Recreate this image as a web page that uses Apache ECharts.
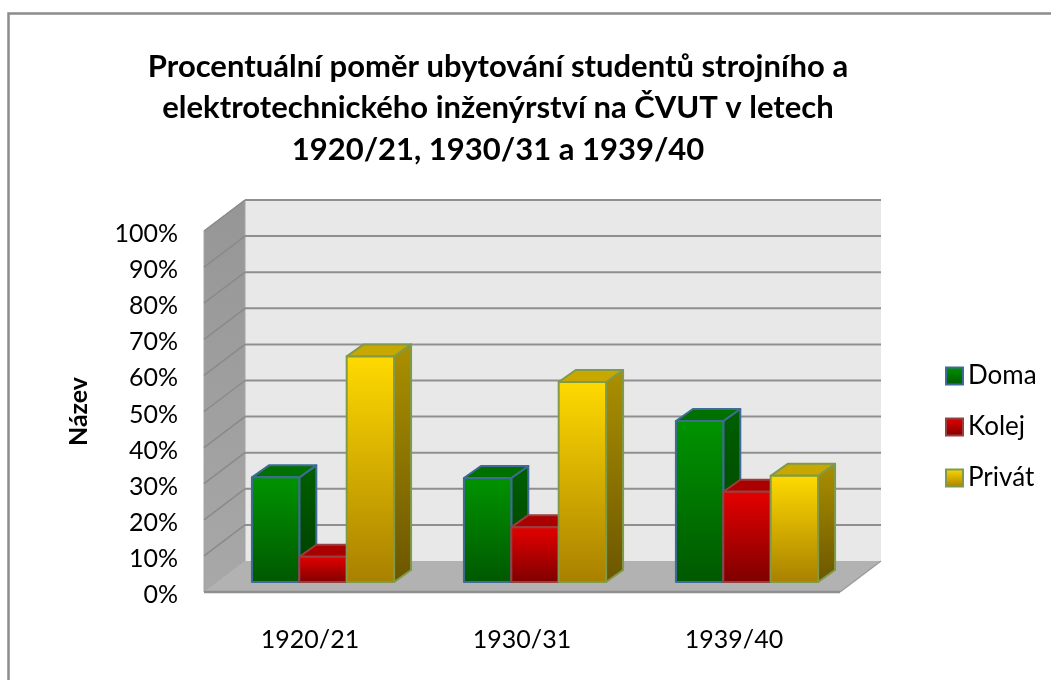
<!DOCTYPE html>
<html><head><meta charset="utf-8">
<style>html,body{margin:0;padding:0;background:#fff}#c{width:1051px;height:680px}</style>
<script src="https://cdn.jsdelivr.net/npm/echarts@6/dist/echarts.min.js"></script>
</head><body><div id="c"></div>
<script>
const titleText = 'Procentuální poměr ubytování studentů strojního a\nelektrotechnického inženýrství na ČVUT v letech\n1920/21, 1930/31 a 1939/40';
const categories = ['1920/21', '1930/31', '1939/40'];
const doma = [29, 28.8, 44.6];
const kolej = [7, 15.2, 25];
const privat = [62.5, 55.4, 29.4];
const yTicks = [0, 10, 20, 30, 40, 50, 60, 70, 80, 90, 100];
const yAxisName = 'Název';

const FONT = 'Lato';
const WALL_DX = 41, WALL_DY = -31;
const BAR_OFF_X = 13, BAR_OFF_Y = -10;
const BAR_DX = 17, BAR_DY = -12;
const BAR_RATIO = 0.2235;

function grad(a, b) {
  return {type: 'linear', x: 0, y: 0, x2: 0, y2: 1, colorStops: [{offset: 0, color: a}, {offset: 1, color: b}]};
}
const palette = [
  {front: grad('#009400', '#005800'), top: '#007000', side: grad('#006000', '#003c00'), border: '#3f6c96'},
  {front: grad('#e60000', '#7e0000'), top: '#aa0000', side: grad('#a00000', '#600000'), border: '#96403f'},
  {front: grad('#ffda00', '#a88000'), top: '#c8a800', side: grad('#ab9000', '#6c5600'), border: '#7f9b4a'}
];

function backdrop(params, api) {
  const cs = params.coordSys;
  const l = cs.x, r = cs.x + cs.width, t = cs.y, b = cs.y + cs.height;
  const children = [];
  children.push({type: 'polygon', shape: {points: [[l, t], [l + WALL_DX, t + WALL_DY], [r + WALL_DX, t + WALL_DY], [r + WALL_DX, b + WALL_DY], [l + WALL_DX, b + WALL_DY]]}, style: {fill: '#e8e8e8'}});
  children.push({type: 'polygon', shape: {points: [[l, t], [l + WALL_DX, t + WALL_DY], [l + WALL_DX, b + WALL_DY], [l, b]]}, style: {fill: grad('#969696', '#a8a8a8'), stroke: '#a4a4a4', lineWidth: 1}});
  children.push({type: 'polygon', shape: {points: [[l, b], [l + WALL_DX, b + WALL_DY], [r + WALL_DX, b + WALL_DY], [r, b]]}, style: {fill: '#b2b2b2'}});
  yTicks.forEach(v => {
    const y = api.coord([0, v])[1];
    if (v > 0) {
      children.push({type: 'line', shape: {x1: l + WALL_DX, y1: y + WALL_DY, x2: r + WALL_DX, y2: y + WALL_DY}, style: {stroke: '#8f8f8f', lineWidth: 2}});
      children.push({type: 'line', shape: {x1: l, y1: y, x2: l + WALL_DX, y2: y + WALL_DY}, style: {stroke: '#8a8a8a', lineWidth: 1.5}});
    }
  });
  children.push({type: 'line', shape: {x1: l, y1: b, x2: r, y2: b}, style: {stroke: '#8f8f8f', lineWidth: 2.5}});
  children.push({type: 'line', shape: {x1: r, y1: b, x2: r + WALL_DX, y2: b + WALL_DY}, style: {stroke: '#9c9c9c', lineWidth: 1.5}});
  return {type: 'group', children};
}

function barRenderer(seriesIdx) {
  const p = palette[seriesIdx];
  return function (params, api) {
    const top = api.coord([api.value(0), api.value(1)]);
    const base = api.coord([api.value(0), 0]);
    const w = api.size([1, 0])[0] * BAR_RATIO;
    const x0 = top[0] + BAR_OFF_X + (seriesIdx - 1.5) * w;
    const x1 = x0 + w;
    const y0 = top[1] + BAR_OFF_Y;
    const y1 = base[1] + BAR_OFF_Y;
    const st = {stroke: p.border, lineWidth: 2, lineJoin: 'round'};
    return {type: 'group', children: [
      {type: 'polygon', shape: {points: [[x1, y0], [x1 + BAR_DX, y0 + BAR_DY], [x1 + BAR_DX, y1 + BAR_DY], [x1, y1]]}, style: {fill: p.side, ...st}},
      {type: 'polygon', shape: {points: [[x0, y0], [x0 + BAR_DX, y0 + BAR_DY], [x1 + BAR_DX, y0 + BAR_DY], [x1, y0]]}, style: {fill: p.top, ...st}},
      {type: 'rect', shape: {x: x0, y: y0, width: w, height: y1 - y0}, style: {fill: p.front, ...st}}
    ]};
  };
}

function barSeries(name, values, idx) {
  return {
    name, type: 'custom', coordinateSystem: 'cartesian2d', z: 3 + idx,
    renderItem: barRenderer(idx),
    encode: {x: 0, y: 1},
    itemStyle: {color: palette[idx].front, borderColor: palette[idx].border, borderWidth: 2},
    data: values.map((v, i) => [i, v])
  };
}

const chart = echarts.init(document.getElementById('c'), null, {renderer: 'canvas'});
chart.setOption({
  animation: false,
  backgroundColor: '#ffffff',
  textStyle: {fontFamily: FONT},
  title: {
    text: titleText, left: 493, top: 41, textAlign: 'center',
    textStyle: {fontFamily: FONT, fontSize: 31, fontWeight: 'bold', color: '#000', lineHeight: 41.5}
  },
  grid: {left: 204, right: 211, top: 231, bottom: 88},
  legend: {
    left: 940, top: 358, orient: 'vertical', icon: 'rect',
    itemWidth: 17, itemHeight: 17, itemGap: 25,
    data: ['Doma', 'Kolej', 'Privát'],
    textStyle: {fontFamily: FONT, fontSize: 26, color: '#000'}
  },
  xAxis: {
    type: 'category', data: categories,
    axisLine: {show: false}, axisTick: {show: false}, splitLine: {show: false},
    axisLabel: {fontFamily: FONT, fontSize: 25, color: '#000', margin: 35}
  },
  yAxis: {
    type: 'value', min: 0, max: 100, interval: 10,
    name: yAxisName, nameLocation: 'middle', nameRotate: 90, nameGap: 113,
    nameTextStyle: {fontFamily: FONT, fontSize: 25, fontWeight: 'bold', color: '#000'},
    axisLine: {show: false}, axisTick: {show: false}, splitLine: {show: false},
    axisLabel: {
      color: '#000', margin: 26, formatter: '{v|{value}%}',
      rich: {v: {fontFamily: FONT, fontSize: 25, color: '#000', padding: [6, 0, 0, 0]}}
    }
  },
  graphic: [
    {type: 'polyline', z: 0, silent: true, shape: {points: [[8.5, 680], [8.5, 13.5], [1051, 13.5]]}, style: {fill: 'none', stroke: '#8c8c8c', lineWidth: 2.5}}
  ],
  series: [
    {name: 'backdrop', type: 'custom', coordinateSystem: 'cartesian2d', z: 1, silent: true, renderItem: backdrop, data: [[0, 0]], encode: {x: 0, y: 1}},
    barSeries('Doma', doma, 0),
    barSeries('Kolej', kolej, 1),
    barSeries('Privát', privat, 2)
  ]
});
</script></body></html>
